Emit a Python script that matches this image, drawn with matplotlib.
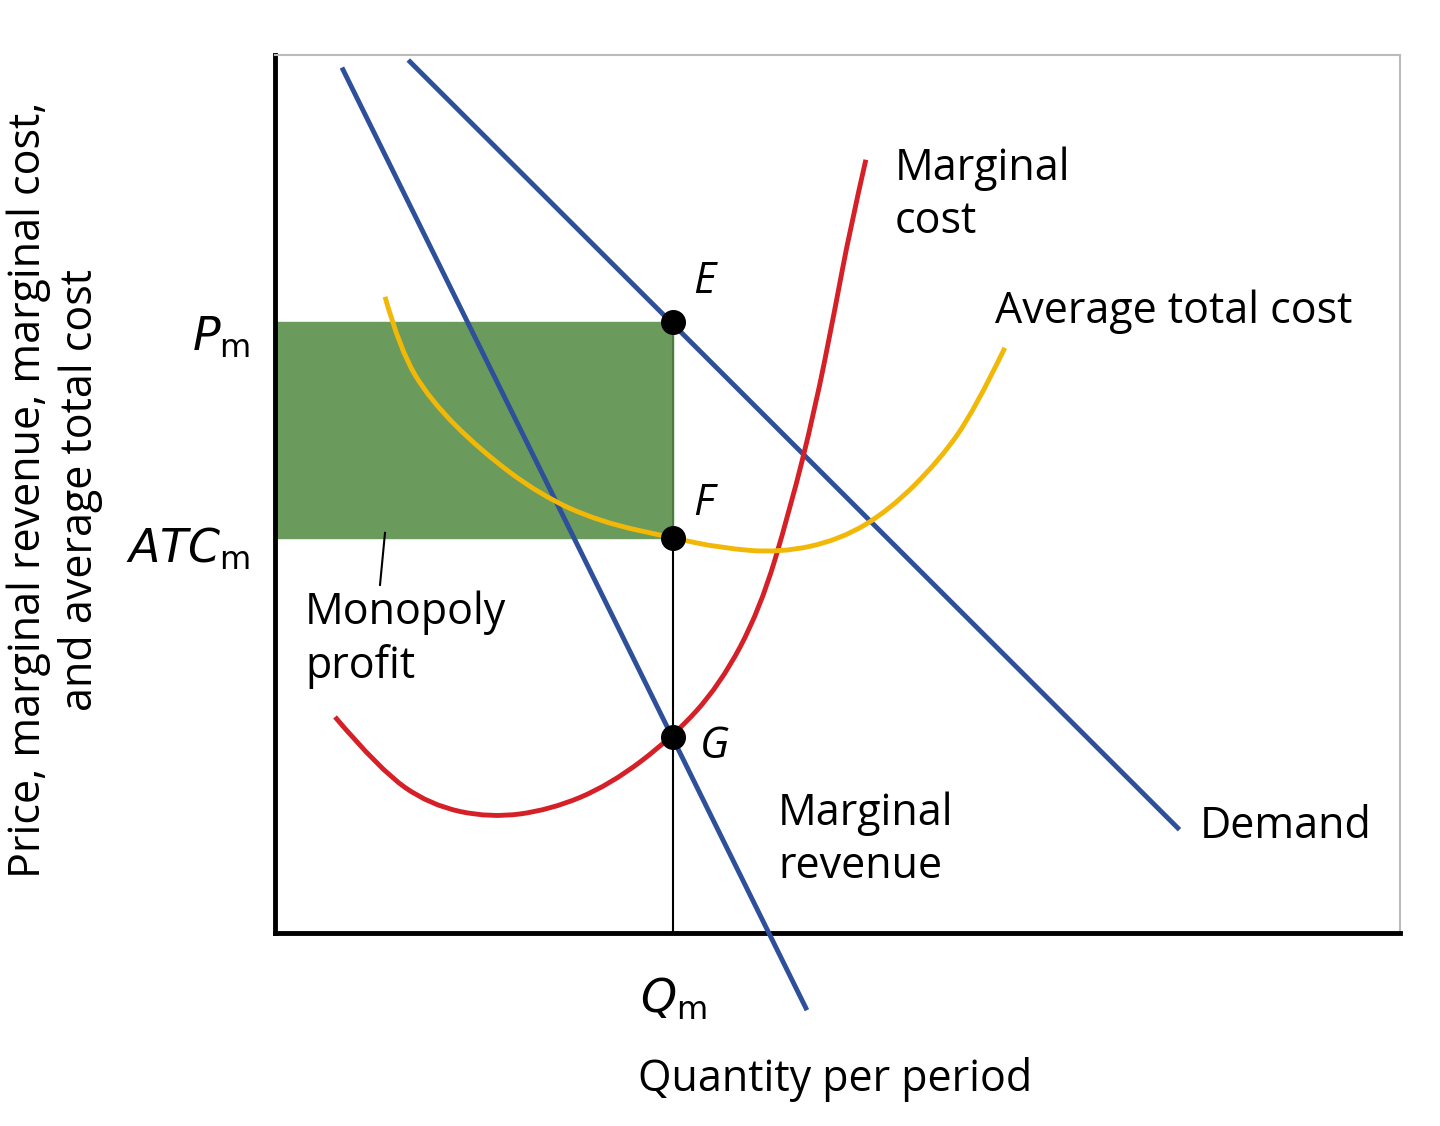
import matplotlib
matplotlib.use("Agg")
import matplotlib.pyplot as plt
from matplotlib.path import Path
from matplotlib.patches import PathPatch

plt.rcParams['font.family'] = ['Open Sans', 'DejaVu Sans']
plt.rcParams['mathtext.fontset'] = 'dejavusans'

demand_x = [135, 903]; demand_y = [871, 105]
mr_x = [68, 531]; mr_y = [863, -75]
mc_x = [60,105,155,215,275,335,398,445,485,515,540,560,575,591]
mc_y = [216,163,128,115,123,148,196,248,323,423,523,623,703,773]
atc_x = [110,125,155,205,265,325,398,445,505,565,615,665,700,730]
atc_y = [636,583,533,483,438,411,395,385,380,393,423,473,523,585]
qm = 398; pm = 611; atcm = 395; mcq = 196

def smooth_path(xs, ys):
    pts = list(zip(xs, ys))
    verts = [pts[0]]; codes = [Path.MOVETO]
    for i in range(1, len(pts) - 1):
        mid = ((pts[i][0] + pts[i+1][0]) / 2, (pts[i][1] + pts[i+1][1]) / 2)
        if i == len(pts) - 2:
            mid = pts[-1]
        verts += [pts[i], mid]; codes += [Path.CURVE3, Path.CURVE3]
    return Path(verts, codes)

fig = plt.figure(figsize=(14.4, 11.26), dpi=100)
ax = fig.add_axes([0.191, 0.1714, 0.781, 0.780])
ax.set_xlim(0, 1125); ax.set_ylim(0, 878)
ax.set_xticks([]); ax.set_yticks([])
for s in ['left', 'bottom']:
    ax.spines[s].set_linewidth(3.5)
for s in ['top', 'right']:
    ax.spines[s].set_linewidth(1.5); ax.spines[s].set_color('#bbbbbb')

ax.fill_between([0, qm], atcm, pm, color='#6a9a5c', zorder=1)
ax.plot([qm, qm], [pm, atcm], color='#4a7a40', lw=1.5, zorder=1)
ax.plot([qm, qm], [0, atcm], color='black', lw=1.5, zorder=2)
blue = '#2e4f9a'
ax.plot(demand_x, demand_y, color=blue, lw=3.5, clip_on=False, zorder=3)
ax.plot(mr_x, mr_y, color=blue, lw=3.5, clip_on=False, zorder=3)
ax.add_patch(PathPatch(smooth_path(mc_x, mc_y), fill=False, edgecolor='#d42026', lw=3.5, zorder=3))
ax.add_patch(PathPatch(smooth_path(atc_x, atc_y), fill=False, edgecolor='#f2b807', lw=3.5, zorder=3))
ax.plot([qm]*3, [pm, atcm, mcq], 'o', color='black', ms=17, zorder=5)
ax.plot([110, 105], [400, 348], color='black', lw=1.5)

fs = 31
ax.text(418, 640, 'E', style='italic', fontsize=fs)
ax.text(418, 418, 'F', style='italic', fontsize=fs)
ax.text(425, 175, 'G', style='italic', fontsize=fs)
ax.text(620, 700, 'Marginal\ncost', fontsize=fs, linespacing=1.25)
ax.text(720, 610, 'Average total cost', fontsize=fs)
ax.text(30, 255, 'Monopoly\nprofit', fontsize=fs, linespacing=1.25)
ax.text(503, 55, 'Marginal\nrevenue', fontsize=fs, linespacing=1.25)
ax.text(925, 95, 'Demand', fontsize=fs)

fig.text(250/1440, 1-338/1126, r'$P_{\mathrm{m}}$', fontsize=fs+2, ha='right', va='center')
fig.text(250/1440, 1-550/1126, r'$ATC_{\mathrm{m}}$', fontsize=fs+2, ha='right', va='center')
fig.text(673/1440, 1-1000/1126, r'$Q_{\mathrm{m}}$', fontsize=fs+2, ha='center', va='center')
fig.text(835/1440, 1-1080/1126, 'Quantity per period', fontsize=fs, ha='center', va='center')
fig.text(55/1440, 1-490/1126, 'Price, marginal revenue, marginal cost,\nand average total cost',
         fontsize=fs, rotation=90, ha='center', va='center', multialignment='center', linespacing=1.2)

fig.savefig('out.png', dpi=100)
